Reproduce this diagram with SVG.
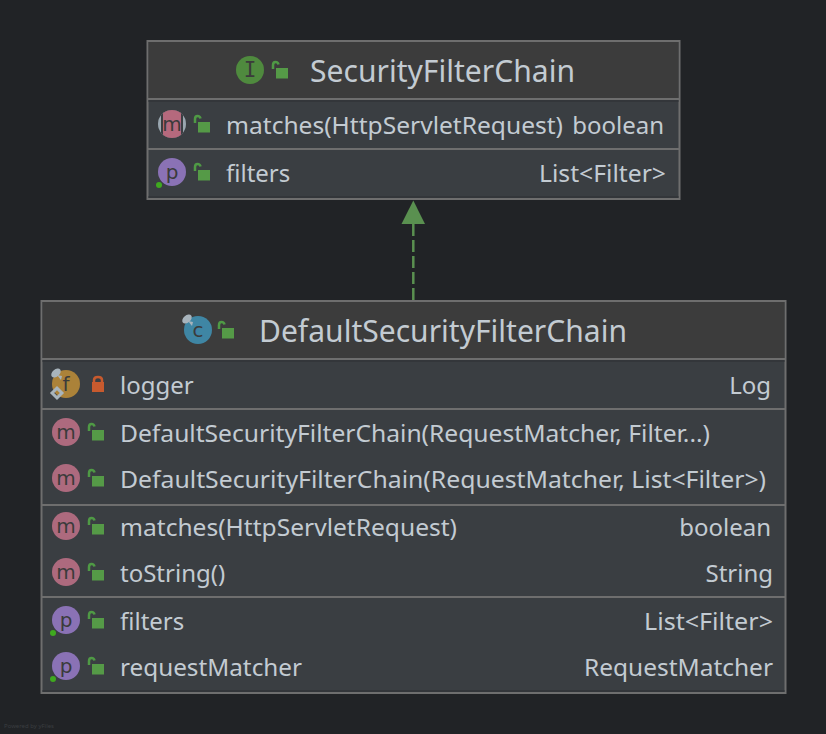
<svg xmlns="http://www.w3.org/2000/svg" xmlns:xlink="http://www.w3.org/1999/xlink" width="826" height="734" viewBox="0 0 826 734">
<style>
text{font-family:"Noto Sans","Open Sans","Liberation Sans",sans-serif;fill:#c3cbd2}
.t{font-size:30px}.r{font-size:24px}
.e{text-anchor:end}
.box{fill:#3a3e42;stroke:#6e6e6e;stroke-width:2}
.hd{fill:#3c3c3c}
.sep{stroke:#6e6e6e;stroke-width:2}
.shade{stroke:#33363a;stroke-width:2}
.g{font-size:20px;fill:#3b3b3b;text-anchor:middle;font-family:"DejaVu Sans",sans-serif}
.gi{font-size:21px;fill:#3b3b3b;text-anchor:middle;font-family:"DejaVu Sans Mono",monospace}
</style>
<defs>
<g id="open"><path d="M-8 -2V-6Q-8 -9 -5.500 -9Q-3 -9 -2.500 -6.500" fill="none" stroke="#4f9a45" stroke-width="2.500"/><rect x="-5" y="-3" width="12" height="10.500" fill="#559a47"/></g>
<g id="closed"><path d="M-4 -2V-4Q-4 -7 0 -7Q4 -7 4 -4V-2" fill="none" stroke="#c75a2e" stroke-width="2.500"/><rect x="-6" y="-2" width="12" height="10" fill="#c75a2e"/></g>
<circle id="dot" r="3" fill="#3fa91f"/>
<g id="pin"><ellipse cx="-5" cy="-6" rx="5.500" ry="3.500" transform="rotate(-40 -5 -6)" fill="#a8b4bc"/><path d="M-4 -4L1 -3L0 1Z" fill="#a8b4bc"/></g>
<clipPath id="mclip"><circle cx="172" cy="124" r="14"/></clipPath>
</defs>
<rect width="826" height="734" fill="#212326"/>
<g id="connectors">
<line x1="413.300" y1="224" x2="413.300" y2="300" stroke="#5a9050" stroke-width="2.500" stroke-dasharray="12 4"/>
<polygon points="413.300,200.500 401.500,224 425,224" fill="#5a9050"/>
</g>
<g id="SecurityFilterChain">
<rect class="box" x="147.500" y="41" width="532" height="158"/>
<rect class="hd" x="148.500" y="42" width="530" height="57"/>
<line class="sep" x1="148" y1="99" x2="679" y2="99"/>
<line class="shade" x1="148.500" y1="101" x2="678.500" y2="101"/>
<line class="sep" x1="148" y1="149" x2="679" y2="149"/>
<line class="shade" x1="148.500" y1="197" x2="678.500" y2="197"/>
<circle cx="250" cy="70" r="14" fill="#4f8a3e"/><text class="gi" x="250" y="77">I</text>
<use xlink:href="#open" x="281" y="71"/>
<text class="t" x="310" y="82" textLength="265" lengthAdjust="spacingAndGlyphs">SecurityFilterChain</text>
<g clip-path="url(#mclip)"><rect x="158" y="110" width="28" height="28" fill="#9aa7b0"/><rect x="161" y="110" width="22" height="28" fill="#3a3e42"/><rect x="163" y="110" width="18" height="28" fill="#b5697d"/></g>
<text class="g" x="172" y="131">m</text>
<use xlink:href="#open" x="203" y="125"/>
<text class="r" x="226" y="134" textLength="337" lengthAdjust="spacingAndGlyphs">matches(HttpServletRequest)</text>
<text class="r e" x="664" y="134">boolean</text>
<circle cx="172" cy="172" r="14" fill="#8a72b5"/><text class="g" x="172" y="179">p</text>
<use xlink:href="#dot" x="159" y="185"/>
<use xlink:href="#open" x="203" y="173"/>
<text class="r" x="226" y="182">filters</text>
<text class="r e" x="666" y="182" textLength="127" lengthAdjust="spacingAndGlyphs">List&lt;Filter&gt;</text>
</g>
<g id="DefaultSecurityFilterChain">
<rect class="box" x="41.500" y="301" width="744" height="392"/>
<rect class="hd" x="42.500" y="302" width="742" height="57"/>
<line class="sep" x1="42" y1="359" x2="785" y2="359"/>
<line class="shade" x1="42.500" y1="361" x2="784.500" y2="361"/>
<line class="sep" x1="42" y1="409" x2="785" y2="409"/>
<line class="sep" x1="42" y1="505" x2="785" y2="505"/>
<line class="sep" x1="42" y1="597" x2="785" y2="597"/>
<line class="shade" x1="42.500" y1="691" x2="784.500" y2="691"/>
<circle cx="198" cy="330" r="14" fill="#3f86a4"/><text class="g" x="198" y="337">c</text>
<use xlink:href="#pin" x="192" y="325"/>
<use xlink:href="#open" x="227" y="331"/>
<text class="t" x="259" y="342" textLength="368" lengthAdjust="spacingAndGlyphs">DefaultSecurityFilterChain</text>
<circle cx="66" cy="384" r="14" fill="#ab8239"/><text class="g" x="66" y="391">f</text>
<use xlink:href="#pin" x="61" y="379"/>
<rect x="53.500" y="389.500" width="7" height="7" transform="rotate(45 57 393)" fill="none" stroke="#a8b4bc" stroke-width="3"/>
<use xlink:href="#closed" x="98" y="384"/>
<text class="r" x="120" y="394">logger</text>
<text class="r e" x="771" y="394">Log</text>
<circle cx="66" cy="432" r="14" fill="#ad6a7e"/><text class="g" x="66" y="439">m</text>
<use xlink:href="#open" x="97" y="433"/>
<text class="r" x="120" y="442" textLength="590" lengthAdjust="spacingAndGlyphs">DefaultSecurityFilterChain(RequestMatcher, Filter...)</text>
<circle cx="66" cy="478" r="14" fill="#ad6a7e"/><text class="g" x="66" y="485">m</text>
<use xlink:href="#open" x="97" y="479"/>
<text class="r" x="120" y="488" textLength="646" lengthAdjust="spacingAndGlyphs">DefaultSecurityFilterChain(RequestMatcher, List&lt;Filter&gt;)</text>
<circle cx="66" cy="526" r="14" fill="#ad6a7e"/><text class="g" x="66" y="533">m</text>
<use xlink:href="#open" x="97" y="527"/>
<text class="r" x="120" y="536" textLength="337" lengthAdjust="spacingAndGlyphs">matches(HttpServletRequest)</text>
<text class="r e" x="771" y="536">boolean</text>
<circle cx="66" cy="572" r="14" fill="#ad6a7e"/><text class="g" x="66" y="579">m</text>
<use xlink:href="#open" x="97" y="573"/>
<text class="r" x="120" y="582">toString()</text>
<text class="r e" x="773" y="582">String</text>
<circle cx="66" cy="620" r="14" fill="#8a72b5"/><text class="g" x="66" y="627">p</text>
<use xlink:href="#dot" x="53" y="633"/>
<use xlink:href="#open" x="97" y="621"/>
<text class="r" x="120" y="630">filters</text>
<text class="r e" x="773" y="630" textLength="129" lengthAdjust="spacingAndGlyphs">List&lt;Filter&gt;</text>
<circle cx="66" cy="666" r="14" fill="#8a72b5"/><text class="g" x="66" y="673">p</text>
<use xlink:href="#dot" x="53" y="679"/>
<use xlink:href="#open" x="97" y="667"/>
<text class="r" x="120" y="676" textLength="182" lengthAdjust="spacingAndGlyphs">requestMatcher</text>
<text class="r e" x="773" y="676" textLength="189" lengthAdjust="spacingAndGlyphs">RequestMatcher</text>
</g>
<text x="4" y="728" style="font-size:6px;fill:#3a3d40">Powered by yFiles</text>
</svg>
